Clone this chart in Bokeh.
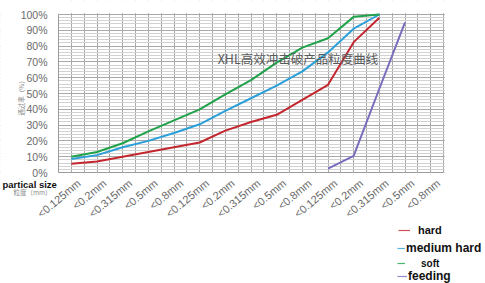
from bokeh.plotting import figure
from bokeh.models import (Range1d, FixedTicker, SingleIntervalTicker, Label,
                          Legend, LegendItem, ColumnDataSource)
from bokeh.embed import file_html
from bokeh.resources import INLINE
import math

# particle size classes along the x axis (three repeating groups)
size_labels = ["<0.125mm", "<0.2mm", "<0.315mm", "<0.5mm", "<0.8mm",
               "<0.125mm", "<0.2mm", "<0.315mm", "<0.5mm", "<0.8mm",
               "<0.125mm", "<0.2mm", "<0.315mm", "<0.5mm", "<0.8mm"]

# cumulative passing rate (%) per material
hard_pos = list(range(13))
hard = [5.5, 7, 10, 13, 16, 19, 26.5, 32, 36.5, 46, 55.5, 82.5, 98]

medium_pos = list(range(13))
medium_hard = [8.5, 11, 16, 20, 25, 30.5, 39, 47, 55, 64, 76, 91, 100]

soft_pos = list(range(13))
soft = [10, 13, 18.5, 26, 33, 40, 49.5, 58.5, 69.5, 79, 85, 98.5, 100]

feeding_pos = [10, 11, 12, 13]
feeding = [2.5, 10.5, 53, 95]

y_ticks = [0, 10, 20, 30, 40, 50, 60, 70, 80, 90, 100]

FONT = "Liberation Sans"
CJK = "Noto Sans CJK SC"

W, H = 485, 283
# plotting box inside the page (pixels): left, right, top, bottom
BL, BR, BT, BB = 58, 443, 14, 172
X0, X1 = -0.5, len(size_labels) - 0.5
Y0, Y1 = 0, 100
kx = (BR - BL) / (X1 - X0)
ky = (BB - BT) / (Y1 - Y0)
# rotated class labels are anchored a little right of each class position
LABEL_SHIFT = 0.3

# the frame fills the whole page; the axes sit at fixed data locations
p = figure(width=W, height=H, output_backend="svg", toolbar_location=None,
           x_range=Range1d(X0 - BL / kx, X1 + (W - BR) / kx),
           y_range=Range1d(Y0 - (H - BB) / ky, Y1 + BT / ky),
           min_border=0)
p.background_fill_color = "white"
p.border_fill_color = "white"
p.outline_line_color = None

# grid: vertical lines every half class, horizontal every 10% with 2% minors
p.xgrid.ticker = FixedTicker(ticks=[X0 + i * 0.5 for i in range(2 * len(size_labels) + 1)])
p.xgrid.grid_line_color = "#a8a8a8"
p.ygrid.ticker = SingleIntervalTicker(interval=10, num_minor_ticks=5)
p.ygrid.grid_line_color = "#a8a8a8"
p.ygrid.minor_grid_line_color = "#d2d2d2"
p.ygrid.bounds = (Y0, Y1)
p.xgrid.bounds = (X0, X1)

# white margins around the plotting box hide the grid outside it
ex, ey = 1.2 / kx, 1.2 / ky
xr0, xr1 = p.x_range.start, p.x_range.end
yr0, yr1 = p.y_range.start, p.y_range.end
p.quad(left=[xr0, xr0, xr0, X1 + ex], right=[xr1, xr1, X0, xr1],
       bottom=[yr0, Y1 + ey, yr0, yr0], top=[Y0, yr1, yr1, yr1],
       fill_color="white", line_color=None)

# x axis along y = 0 with rotated class labels
label_ticks = [round(i + LABEL_SHIFT, 2) for i in range(len(size_labels))]
xa = p.xaxis[0]
xa.fixed_location = 0
xa.bounds = (X0, X1)
xa.ticker = FixedTicker(ticks=label_ticks)
xa.major_label_overrides = {t: s for t, s in zip(label_ticks, size_labels)}
xa.major_label_orientation = math.radians(40)
xa.major_label_text_font = FONT
xa.major_label_text_font_size = "11px"
xa.major_label_text_color = "#6a6a6a"
xa.major_tick_line_color = None
xa.minor_tick_line_color = None
xa.axis_line_color = "#9a9a9a"
xa.major_label_standoff = 3

# y axis along the left edge of the box, in percent
ya = p.yaxis[0]
ya.fixed_location = X0
ya.bounds = (Y0, Y1)
ya.ticker = FixedTicker(ticks=y_ticks)
ya.major_label_overrides = {v: f"{v}%" for v in y_ticks}
ya.major_label_text_font = FONT
ya.major_label_text_font_size = "10.5px"
ya.major_label_text_color = "#6a6a6a"
ya.major_tick_line_color = None
ya.minor_tick_line_color = None
ya.axis_line_color = "#9a9a9a"
ya.major_label_standoff = 5

RED = "#c4262e"
BLUE = "#2a9fd9"
GREEN = "#1fa24a"
PURPLE = "#7b6bbd"

p.line(hard_pos, hard, line_color=RED, line_width=2)
p.line(medium_pos, medium_hard, line_color=BLUE, line_width=2)
p.line(soft_pos, soft, line_color=GREEN, line_width=2)
p.line(feeding_pos, feeding, line_color=PURPLE, line_width=2)

# chart title inside the plot area
p.add_layout(Label(x=5.7, y=72, text="XHL高效冲击破产品粒度曲线",
                   text_font=CJK, text_font_size="12.5px",
                   text_color="#5a5a5a", text_baseline="middle"))

# y axis caption (vertical, small)
p.add_layout(Label(x=20, y=H - 96, x_units="screen", y_units="screen",
                   text="通过率（%）", angle=math.pi / 2, text_font=CJK,
                   text_font_size="6.5px", text_color="#888888",
                   text_align="center", text_baseline="middle"))

# x axis caption at the lower left
p.add_layout(Label(x=2, y=H - 184, x_units="screen", y_units="screen",
                   text="partical size", text_font=FONT,
                   text_font_size="9.5px", text_font_style="bold",
                   text_color="#111111", text_baseline="middle"))
p.add_layout(Label(x=13, y=H - 191, x_units="screen", y_units="screen",
                   text="粒度（mm）", text_font=CJK, text_font_size="6.5px",
                   text_color="#8a8a8a", text_baseline="middle"))

# separate legend entries below the plot; each swatch line has no points
nan = float("nan")
entries = [
    ("hard", RED, 12, 8, "11px", 398, 230),
    ("medium hard", BLUE, 8, 1, "12px", 397, 248),
    ("soft", GREEN, 8, 16, "10px", 397, 263),
    ("feeding", PURPLE, 10, 1, "12px", 397, 276),
]
for name, col, gw, standoff, fs, lx, cy in entries:
    src = ColumnDataSource(data=dict(x=[nan], y=[nan]))
    r = p.line(x="x", y="y", source=src, line_color=col, line_width=1.2,
               line_alpha=0.8)
    h = 14
    leg = Legend(items=[LegendItem(label=name, renderers=[r])],
                 location=(lx, H - cy - h // 2), padding=0, margin=0,
                 spacing=0, border_line_color=None,
                 background_fill_alpha=0, glyph_width=gw, glyph_height=h,
                 label_height=h, label_standoff=standoff,
                 label_text_font=FONT, label_text_font_size=fs,
                 label_text_font_style="bold", label_text_color="#111111")
    p.add_layout(leg)

open("out.html", "w").write(file_html(p, INLINE))
